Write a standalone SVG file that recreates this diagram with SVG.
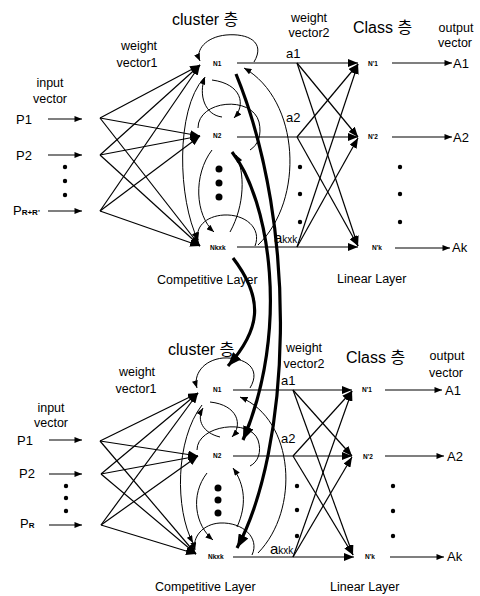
<svg xmlns="http://www.w3.org/2000/svg" width="480" height="596" viewBox="0 0 480 596">
<style>
.t{font-family:"Liberation Sans",Arial,sans-serif;fill:#000}
.k{font-family:"Liberation Sans","Noto Sans CJK KR",sans-serif;fill:#000;font-size:16px}
.lab{font-size:12.5px}
.n{font-size:6.5px;font-weight:bold}
.ln{stroke:#000;stroke-width:1.2;fill:none}
.cv{stroke:#000;stroke-width:1;fill:none}
.th{stroke:#000;stroke-width:3.2;fill:none}
</style>
<defs>
<marker id="ah" viewBox="0 0 10 8" refX="10" refY="4" markerWidth="10" markerHeight="8" markerUnits="userSpaceOnUse" orient="auto"><path d="M0,0 L10,4 L0,8 z"/></marker>
<marker id="as" viewBox="0 0 10 8" refX="10" refY="4" markerWidth="8" markerHeight="6" markerUnits="userSpaceOnUse" orient="auto"><path d="M0,0 L10,4 L0,8 z"/></marker>
<marker id="at" viewBox="0 0 10 8" refX="10" refY="4" markerWidth="14" markerHeight="11" markerUnits="userSpaceOnUse" orient="auto"><path d="M0,0 L10,4 L0,8 z"/></marker>
</defs>

<!-- ===== headings / layer labels ===== -->
<g id="labels-top">
<text class="k" x="172" y="25">cluster 층</text>
<text class="t lab" x="139" y="50" text-anchor="middle">weight</text>
<text class="t lab" x="137" y="67" text-anchor="middle">vector1</text>
<text class="t lab" x="50" y="87" text-anchor="middle">input</text>
<text class="t lab" x="50" y="103" text-anchor="middle">vector</text>
<text class="t lab" x="309" y="22" text-anchor="middle">weight</text>
<text class="t lab" x="309" y="37" text-anchor="middle">vector2</text>
<text class="k" x="353" y="33">Class 층</text>
<text class="t lab" x="456" y="32" text-anchor="middle">output</text>
<text class="t lab" x="455" y="47" text-anchor="middle">vector</text>
<text class="t" x="157" y="284" font-size="12.5">Competitive Layer</text>
<text class="t" x="337" y="283" font-size="12.5">Linear Layer</text>
<text class="t" x="286" y="58" font-size="13">a1</text>
<text class="t" x="286" y="122" font-size="13">a2</text>
<text class="t" x="274" y="243" font-size="15">a<tspan font-size="10">kxk</tspan></text>
</g>
<g id="labels-bottom">
<text class="k" x="168" y="355">cluster 층</text>
<text class="t lab" x="137" y="376" text-anchor="middle">weight</text>
<text class="t lab" x="136" y="393" text-anchor="middle">vector1</text>
<text class="t lab" x="51" y="412" text-anchor="middle">input</text>
<text class="t lab" x="51" y="427" text-anchor="middle">vector</text>
<text class="t lab" x="304" y="352" text-anchor="middle">weight</text>
<text class="t lab" x="304" y="368" text-anchor="middle">vector2</text>
<text class="k" x="346" y="363">Class 층</text>
<text class="t lab" x="447" y="360" text-anchor="middle">output</text>
<text class="t lab" x="446" y="377" text-anchor="middle">vector</text>
<text class="t" x="155" y="591" font-size="12.5">Competitive Layer</text>
<text class="t" x="330" y="591" font-size="12.5">Linear Layer</text>
<text class="t" x="281" y="385" font-size="13">a1</text>
<text class="t" x="281" y="443" font-size="13">a2</text>
<text class="t" x="270" y="554" font-size="15">a<tspan font-size="10">kxk</tspan></text>
</g>

<!-- ===== input nodes ===== -->
<g id="in-P1-top"><text class="t" x="16" y="124" font-size="13">P1</text></g>
<g id="in-P2-top"><text class="t" x="16" y="160" font-size="13">P2</text></g>
<g id="in-PR-top"><text class="t" x="13" y="215" font-size="13">P<tspan font-size="8" font-weight="bold">R+R'</tspan></text></g>
<g id="in-dots-top"><circle cx="65" cy="167" r="2.2"/><circle cx="65" cy="181" r="2.2"/><circle cx="65" cy="195" r="2.2"/></g>
<g id="in-P1-bot"><text class="t" x="17" y="445" font-size="13">P1</text></g>
<g id="in-P2-bot"><text class="t" x="19" y="478" font-size="13">P2</text></g>
<g id="in-PR-bot"><text class="t" x="20" y="528" font-size="13">P<tspan font-size="8" font-weight="bold">R</tspan></text></g>
<g id="in-dots-bot"><circle cx="66" cy="486" r="2.2"/><circle cx="66" cy="498" r="2.2"/><circle cx="66" cy="511" r="2.2"/></g>

<!-- ===== competitive (cluster) nodes ===== -->
<g id="c-N1-top"><text class="t n" x="213" y="65.5">N1</text></g>
<g id="c-N2-top"><text class="t n" x="213" y="138">N2</text></g>
<g id="c-dots-top"><circle cx="219" cy="169" r="3.5"/><circle cx="219" cy="183" r="3.5"/><circle cx="219" cy="197" r="3.5"/></g>
<g id="c-Nk-top"><text class="t n" x="210" y="250" font-size="6">Nkxk</text></g>
<g id="c-N1-bot"><text class="t n" x="213" y="392">N1</text></g>
<g id="c-N2-bot"><text class="t n" x="213" y="458">N2</text></g>
<g id="c-dots-bot"><circle cx="218" cy="488" r="3.5"/><circle cx="218" cy="500" r="3.5"/><circle cx="218" cy="513" r="3.5"/></g>
<g id="c-Nk-bot"><text class="t n" x="208" y="559" font-size="6">Nkxk</text></g>

<!-- ===== linear (class) nodes ===== -->
<g id="l-N1-top"><text class="t n" x="368" y="65.5">N'1</text></g>
<g id="l-N2-top"><text class="t n" x="368" y="139">N'2</text></g>
<g id="l-dots-top"><circle cx="300" cy="167" r="2.2"/><circle cx="300" cy="194" r="2.2"/><circle cx="300" cy="222" r="2.2"/><circle cx="400" cy="167" r="2.2"/><circle cx="400" cy="194" r="2.2"/><circle cx="400" cy="222" r="2.2"/></g>
<g id="l-Nk-top"><text class="t n" x="372" y="249.5">N'k</text></g>
<g id="l-N1-bot"><text class="t n" x="362" y="392">N'1</text></g>
<g id="l-N2-bot"><text class="t n" x="363" y="459">N'2</text></g>
<g id="l-dots-bot"><circle cx="297" cy="486" r="2.2"/><circle cx="297" cy="510" r="2.2"/><circle cx="297" cy="536" r="2.2"/><circle cx="393" cy="486" r="2.2"/><circle cx="393" cy="511" r="2.2"/><circle cx="393" cy="536" r="2.2"/></g>
<g id="l-Nk-bot"><text class="t n" x="365" y="559">N'k</text></g>

<!-- ===== outputs ===== -->
<g id="o-A1-top"><text class="t" x="453" y="68" font-size="13">A1</text></g>
<g id="o-A2-top"><text class="t" x="453" y="142" font-size="13">A2</text></g>
<g id="o-Ak-top"><text class="t" x="452" y="252" font-size="13">Ak</text></g>
<g id="o-A1-bot"><text class="t" x="445" y="395" font-size="13">A1</text></g>
<g id="o-A2-bot"><text class="t" x="447" y="461" font-size="13">A2</text></g>
<g id="o-Ak-bot"><text class="t" x="447" y="561" font-size="13">Ak</text></g>

<!-- ===== connectors ===== -->
<g id="connectors">
<!-- top input arrows -->
<path class="ln" d="M48,119 H82" marker-end="url(#as)"/>
<path class="ln" d="M48,155 H82" marker-end="url(#as)"/>
<path class="ln" d="M48,211 H82" marker-end="url(#as)"/>
<!-- top weight vector1 -->
<path class="ln" d="M100,118 L200,65" marker-end="url(#ah)"/>
<path class="ln" d="M100,118 L200,136" marker-end="url(#ah)"/>
<path class="ln" d="M100,118 L200,246" marker-end="url(#ah)"/>
<path class="ln" d="M100,155 L200,65" marker-end="url(#ah)"/>
<path class="ln" d="M100,155 L200,136" marker-end="url(#ah)"/>
<path class="ln" d="M100,155 L200,246" marker-end="url(#ah)"/>
<path class="ln" d="M100,211 L200,65" marker-end="url(#ah)"/>
<path class="ln" d="M100,211 L200,136" marker-end="url(#ah)"/>
<path class="ln" d="M100,211 L200,246" marker-end="url(#ah)"/>
<!-- top weight vector2 -->
<path class="ln" d="M237,63 H358" marker-end="url(#ah)"/>
<path class="ln" d="M237,137 H358" marker-end="url(#ah)"/>
<path class="ln" d="M237,247 H358" marker-end="url(#ah)"/>
<path class="ln" d="M297,63 L358,137" marker-end="url(#ah)"/>
<path class="ln" d="M297,63 L358,246" marker-end="url(#ah)"/>
<path class="ln" d="M297,137 L358,64" marker-end="url(#ah)"/>
<path class="ln" d="M297,137 L358,246" marker-end="url(#ah)"/>
<path class="ln" d="M297,247 L358,64" marker-end="url(#ah)"/>
<path class="ln" d="M297,247 L358,138" marker-end="url(#ah)"/>
<!-- top outputs -->
<path class="ln" d="M392,63 H452" marker-end="url(#as)"/>
<path class="ln" d="M392,137 H452" marker-end="url(#as)"/>
<path class="ln" d="M395,248 H450" marker-end="url(#as)"/>
<!-- top cluster lateral curves -->
<path class="cv" d="M254,62 C266,42 248,33 226,35 C206,37 195,50 200,61" marker-end="url(#as)"/>
<path class="cv" d="M222,117 C205,115 198,95 205,77" marker-end="url(#as)"/>
<path class="cv" d="M212,80 C242,84 246,105 234,118" marker-end="url(#as)"/>
<path class="cv" d="M198,128 C198,100 252,95 259,122 C262,135 258,145 250,150"/>
<path class="cv" d="M258,245 C305,200 300,100 244,68" marker-end="url(#as)"/>
<path class="cv" d="M204,78 C175,110 178,200 198,240" marker-end="url(#as)"/>
<path class="cv" d="M212,150 C193,175 195,215 214,232" marker-end="url(#as)"/>
<path class="cv" d="M230,232 C245,205 245,172 236,155" marker-end="url(#as)"/>
<path class="cv" d="M255,246 C262,228 245,214 224,215 C205,216 195,228 198,240" marker-end="url(#as)"/>

<!-- bottom input arrows -->
<path class="ln" d="M49,440 H82" marker-end="url(#as)"/>
<path class="ln" d="M49,474 H82" marker-end="url(#as)"/>
<path class="ln" d="M49,525 H82" marker-end="url(#as)"/>
<!-- bottom weight vector1 -->
<path class="ln" d="M100,441 L198,393" marker-end="url(#ah)"/>
<path class="ln" d="M100,441 L198,456" marker-end="url(#ah)"/>
<path class="ln" d="M100,441 L196,554" marker-end="url(#ah)"/>
<path class="ln" d="M101,474 L198,393" marker-end="url(#ah)"/>
<path class="ln" d="M101,474 L198,456" marker-end="url(#ah)"/>
<path class="ln" d="M101,474 L196,554" marker-end="url(#ah)"/>
<path class="ln" d="M101,525 L198,393" marker-end="url(#ah)"/>
<path class="ln" d="M101,525 L198,456" marker-end="url(#ah)"/>
<path class="ln" d="M101,525 L196,554" marker-end="url(#ah)"/>
<!-- bottom weight vector2 -->
<path class="ln" d="M233,390 H352" marker-end="url(#ah)"/>
<path class="ln" d="M233,456 H352" marker-end="url(#ah)"/>
<path class="ln" d="M233,557 H354" marker-end="url(#ah)"/>
<path class="ln" d="M293,390 L352,456" marker-end="url(#ah)"/>
<path class="ln" d="M293,390 L353,555" marker-end="url(#ah)"/>
<path class="ln" d="M293,456 L352,391" marker-end="url(#ah)"/>
<path class="ln" d="M293,456 L353,555" marker-end="url(#ah)"/>
<path class="ln" d="M293,557 L352,391" marker-end="url(#ah)"/>
<path class="ln" d="M293,557 L352,457" marker-end="url(#ah)"/>
<!-- bottom outputs -->
<path class="ln" d="M385,390 H442" marker-end="url(#as)"/>
<path class="ln" d="M385,456 H444" marker-end="url(#as)"/>
<path class="ln" d="M390,557 H444" marker-end="url(#as)"/>
<!-- bottom cluster lateral curves -->
<path class="cv" d="M250,388 C262,368 245,357 223,358 C203,360 193,375 197,388" marker-end="url(#as)"/>
<path class="cv" d="M220,437 C203,433 196,420 203,408" marker-end="url(#as)"/>
<path class="cv" d="M210,402 C238,405 243,425 232,437" marker-end="url(#as)"/>
<path class="cv" d="M197,450 C197,425 250,418 258,440 C262,452 258,462 250,466"/>
<path class="cv" d="M258,553 C300,510 295,420 240,397" marker-end="url(#as)"/>
<path class="cv" d="M202,405 C175,440 175,510 193,543" marker-end="url(#as)"/>
<path class="cv" d="M207,473 C190,495 195,525 213,540" marker-end="url(#as)"/>
<path class="cv" d="M237,527 C247,505 245,485 233,468" marker-end="url(#as)"/>
<path class="cv" d="M252,555 C260,538 243,522 220,523 C203,524 192,537 195,550" marker-end="url(#as)"/>

<!-- thick inter-block curves -->
<path class="th" d="M232,152 C270,200 290,330 243,440" marker-end="url(#at)"/>
<path class="th" d="M236,74 C300,230 290,450 237,548" marker-end="url(#at)"/>
<path class="th" d="M233,258 C265,300 260,330 228,366" marker-end="url(#at)"/>
</g>
</svg>
